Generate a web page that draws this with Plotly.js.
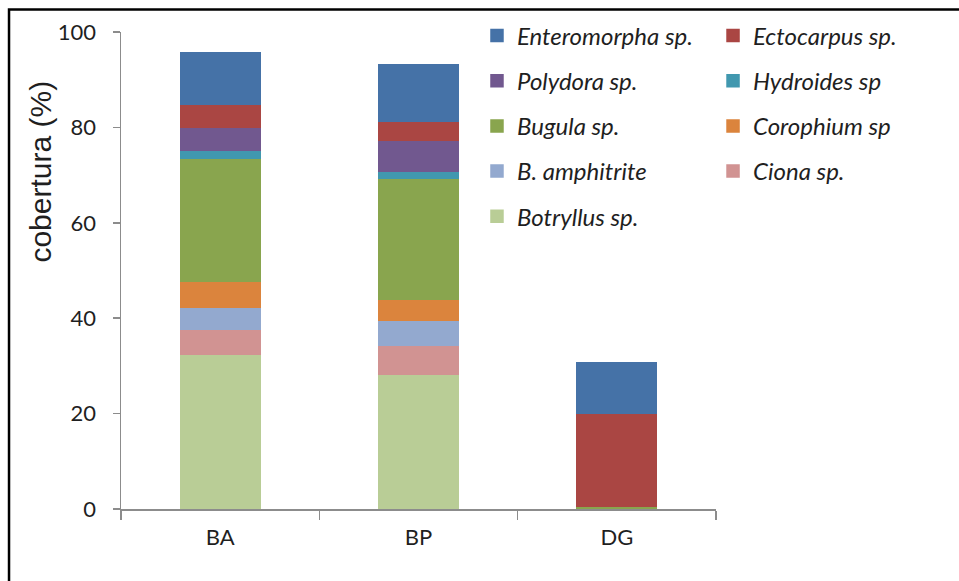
<!DOCTYPE html>
<html>
<head>
<meta charset="utf-8">
<script src="https://cdn.plot.ly/plotly-3.0.1.min.js"></script>
<style>
  html, body { margin: 0; padding: 0; background: #ffffff; }
  #chart { width: 959px; height: 581px; }
</style>
</head>
<body>
<div id="chart"></div>
<script>
// ---- data ----
var categories = ['BA', 'BP', 'DG'];

var botryllus    = [32.5, 28.3, 0];
var ciona        = [5.1, 6.1, 0];
var bAmphitrite  = [4.6, 5.2, 0];
var corophium    = [5.6, 4.4, 0];
var bugula       = [25.8, 25.3, 0.5];
var hydroides    = [1.6, 1.6, 0];
var polydora     = [4.8, 6.5, 0];
var ectocarpus   = [4.9, 3.9, 19.5];
var enteromorpha = [10.7, 11.9, 10.7];

var yTickValues = [0, 20, 40, 60, 80, 100];
var yTickLabels = ['0', '20', '40', '60', '80', '100'];

// stacking order bottom -> top; rank = position in legend (top first)
var series = [
  {name: 'Botryllus sp.',    y: botryllus,    color: '#B9CD96', legend: 'legend',  rank: 9},
  {name: 'Ciona sp.',        y: ciona,        color: '#D19392', legend: 'legend2', rank: 8},
  {name: 'B. amphitrite',    y: bAmphitrite,  color: '#93A9CF', legend: 'legend',  rank: 7},
  {name: 'Corophium sp',     y: corophium,    color: '#DB843D', legend: 'legend2', rank: 6},
  {name: 'Bugula sp.',       y: bugula,       color: '#89A54E', legend: 'legend',  rank: 5},
  {name: 'Hydroides sp',     y: hydroides,    color: '#4198AF', legend: 'legend2', rank: 4},
  {name: 'Polydora sp.',     y: polydora,     color: '#71588F', legend: 'legend',  rank: 3},
  {name: 'Ectocarpus sp.',   y: ectocarpus,   color: '#AA4643', legend: 'legend2', rank: 2},
  {name: 'Enteromorpha sp.', y: enteromorpha, color: '#4572A7', legend: 'legend',  rank: 1}
];

var traces = series.map(function (s) {
  return {
    type: 'bar',
    name: s.name,
    x: categories,
    y: s.y,
    legend: s.legend,
    legendgroup: s.name,
    legendrank: s.rank,
    marker: {color: s.color, line: {color: s.color, width: 1.5}},
    hoverinfo: 'skip'
  };
});

var tickFont = {family: 'Lato, "Open Sans", sans-serif', size: 22, color: '#1f1f1f'};
var legendFont = {family: 'Lato, "Open Sans", sans-serif', size: 24, color: '#1f1f1f', style: 'italic'};

var layout = {
  width: 959,
  height: 581,
  margin: {l: 121, r: 243, t: 32, b: 72, pad: 0},
  paper_bgcolor: '#ffffff',
  plot_bgcolor: '#ffffff',
  barmode: 'stack',
  bargap: 0.6,
  showlegend: true,
  xaxis: {
    type: 'category',
    showgrid: false,
    zeroline: false,
    showline: true,
    linecolor: '#8c8c8c',
    linewidth: 1.5,
    ticks: 'outside',
    tickson: 'boundaries',
    ticklen: 9,
    tickwidth: 1.5,
    tickcolor: '#8c8c8c',
    tickfont: tickFont,
    ticklabelstandoff: 8,
    fixedrange: true
  },
  yaxis: {
    range: [0, 100],
    tickvals: yTickValues,
    ticktext: yTickLabels,
    showgrid: false,
    zeroline: false,
    showline: true,
    linecolor: '#8c8c8c',
    linewidth: 1.5,
    ticks: 'outside',
    ticklen: 7,
    tickwidth: 1.5,
    tickcolor: '#8c8c8c',
    tickfont: tickFont,
    ticklabelstandoff: 12,
    fixedrange: true
  },
  legend: {
    x: 0.5983, y: 1.039, xanchor: 'left', yanchor: 'top',
    orientation: 'v',
    traceorder: 'grouped',
    tracegroupgap: 11,
    font: legendFont,
    bgcolor: 'rgba(0,0,0,0)'
  },
  legend2: {
    x: 0.995, y: 1.039, xanchor: 'left', yanchor: 'top',
    orientation: 'v',
    traceorder: 'grouped',
    tracegroupgap: 11,
    font: legendFont,
    bgcolor: 'rgba(0,0,0,0)'
  },
  annotations: [{
    xref: 'paper', yref: 'paper',
    x: -0.136, y: 0.7075,
    xanchor: 'center', yanchor: 'middle',
    text: 'cobertura (%)',
    textangle: -90,
    showarrow: false,
    font: {family: '"Liberation Sans", Arial, sans-serif', size: 30, color: '#1f1f1f'}
  }],
  shapes: [{
    type: 'path',
    xref: 'paper', yref: 'paper',
    path: 'M -0.1882,-0.3 L -0.1882,1.0472 L 1.6,1.0472',
    line: {color: '#000000', width: 2.5}
  }]
};

Plotly.newPlot('chart', traces, layout, {staticPlot: true, displayModeBar: false});
</script>
</body>
</html>
